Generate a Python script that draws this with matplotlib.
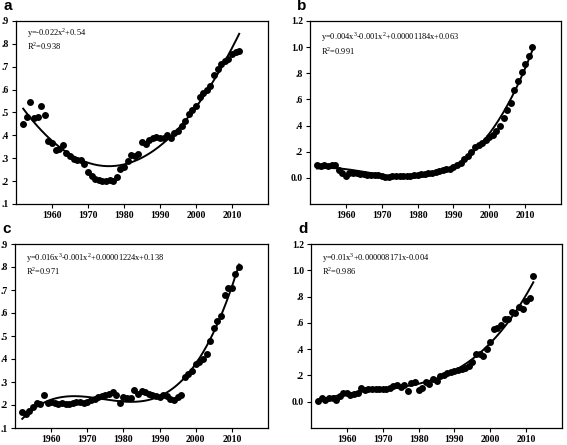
import matplotlib
matplotlib.use('Agg')
import matplotlib.pyplot as plt
import numpy as np

# Years shared by all four panels
years = list(range(1952, 2013))

vals_a = [0.45, 0.48, 0.545, 0.477, 0.48, 0.53, 0.487, 0.377, 0.365, 0.336,
          0.34, 0.36, 0.325, 0.31, 0.296, 0.292, 0.292, 0.274, 0.24, 0.223,
          0.208, 0.205, 0.2, 0.2, 0.205, 0.2, 0.22, 0.252, 0.26, 0.29,
          0.315, 0.31, 0.32, 0.37, 0.362, 0.38, 0.387, 0.395, 0.39, 0.39,
          0.4, 0.39, 0.41, 0.42, 0.443, 0.465, 0.494, 0.51, 0.53, 0.567,
          0.585, 0.597, 0.615, 0.663, 0.69, 0.71, 0.725, 0.735, 0.757, 0.765,
          0.77]
vals_b = [0.10, 0.09, 0.10, 0.09, 0.10, 0.095, 0.06, 0.035, 0.015, 0.035,
          0.04, 0.035, 0.03, 0.03, 0.025, 0.025, 0.02, 0.02, 0.015, 0.01,
          0.008, 0.012, 0.015, 0.015, 0.015, 0.015, 0.015, 0.02, 0.025, 0.03,
          0.03, 0.035, 0.04, 0.045, 0.055, 0.06, 0.065, 0.07, 0.08, 0.095,
          0.115, 0.145, 0.17, 0.2, 0.235, 0.25, 0.27, 0.29, 0.31, 0.33,
          0.36, 0.395, 0.455, 0.52, 0.575, 0.67, 0.74, 0.81, 0.87, 0.935,
          1.0]
vals_c = [0.17, 0.16, 0.175, 0.19, 0.21, 0.205, 0.245, 0.21, 0.215, 0.21,
          0.205, 0.21, 0.205, 0.205, 0.21, 0.215, 0.215, 0.21, 0.215, 0.22,
          0.225, 0.235, 0.24, 0.245, 0.25, 0.255, 0.245, 0.21, 0.235, 0.23,
          0.23, 0.265, 0.25, 0.26, 0.255, 0.25, 0.245, 0.24, 0.235, 0.245,
          0.24, 0.225, 0.22, 0.235, 0.245, 0.32, 0.335, 0.35, 0.38, 0.385,
          0.40, 0.42, 0.48, 0.535, 0.565, 0.585, 0.68, 0.71, 0.71, 0.77,
          0.80]
vals_d = [0.005, 0.025, 0.015, 0.025, 0.03, 0.01, 0.045, 0.07, 0.065, 0.05,
          0.06, 0.07, 0.105, 0.09, 0.095, 0.1, 0.1, 0.1, 0.095, 0.1,
          0.108, 0.12, 0.128, 0.11, 0.125, 0.085, 0.145, 0.15, 0.09, 0.108,
          0.15, 0.135, 0.175, 0.16, 0.195, 0.2, 0.215, 0.225, 0.235, 0.245,
          0.25, 0.26, 0.27, 0.3, 0.36, 0.36, 0.35, 0.4, 0.455, 0.555,
          0.56, 0.58, 0.63, 0.63, 0.68, 0.675, 0.72, 0.705, 0.765, 0.79,
          0.96]

eq_a = ["y=-0.022x$^{2}$+0.54", "R$^{2}$=0.938"]
eq_b = ["y=0.004x$^{3}$-0.001x$^{2}$+0.00001184x+0.063", "R$^{2}$=0.991"]
eq_c = ["y=0.016x$^{3}$-0.001x$^{2}$+0.00001224x+0.138", "R$^{2}$=0.971"]
eq_d = ["y=0.01x$^{3}$+0.000008171x-0.004", "R$^{2}$=0.986"]

small_ticks = [0.1, 0.2, 0.3, 0.4, 0.5, 0.6, 0.7, 0.8, 0.9]
small_labels = [".1", ".2", ".3", ".4", ".5", ".6", ".7", ".8", ".9"]
big_ticks = [0.0, 0.2, 0.4, 0.6, 0.8, 1.0, 1.2]
big_labels = ["0.0", ".2", ".4", ".6", ".8", "1.0", "1.2"]
xticks = [1960, 1970, 1980, 1990, 2000, 2010]

plt.rcParams['mathtext.fontset'] = 'custom'
plt.rcParams['mathtext.rm'] = 'Liberation Serif'

W, H = 567, 445
fig = plt.figure(figsize=(W / 100, H / 100), dpi=100)


def panel(rect, letter, vals, deg, eq, ylim, yt, ytl, eq_y):
    l, t, r, b = rect
    ax = fig.add_axes([l / W, 1 - b / H, (r - l) / W, (b - t) / H])
    x = np.array(years, dtype=float)
    y = np.array(vals)
    # polynomial trend line fitted to the points
    coef = np.polyfit(x - 1980, y, deg)
    xs = np.linspace(x[0], x[-1], 200)
    ax.plot(xs, np.polyval(coef, xs - 1980), color='black', lw=1.4, zorder=2)
    ax.plot(x, y, 'o', color='black', ms=5, mew=0, zorder=3)
    ax.set_xlim(1950, 2020)
    ax.set_ylim(*ylim)
    ax.set_xticks(xticks)
    ax.set_xticklabels([str(v) for v in xticks])
    ax.set_yticks(yt)
    ax.set_yticklabels(ytl)
    ax.tick_params(direction='out', length=3, width=0.8, pad=2,
                   top=False, right=False)
    for lab in ax.get_xticklabels() + ax.get_yticklabels():
        lab.set_fontfamily('Liberation Serif')
        lab.set_fontweight('bold')
        lab.set_fontsize(7)
    for sp in ax.spines.values():
        sp.set_linewidth(0.9)
    ax.text(0.045, eq_y, eq[0], transform=ax.transAxes, fontsize=6,
            family='Liberation Serif', va='center')
    ax.text(0.045, eq_y - 0.073, eq[1], transform=ax.transAxes, fontsize=6,
            family='Liberation Serif', va='center')
    fig.text((l - 13) / W, 1 - (t - 15) / H, letter, fontsize=11,
             fontweight='bold', family='Liberation Sans', va='center')
    return ax


panel((16, 21, 268, 204), 'a', vals_a, 2, eq_a, (0.1, 0.9),
      small_ticks, small_labels, 0.935)
panel((310, 21, 561, 204), 'b', vals_b, 3, eq_b, (-0.2, 1.2),
      big_ticks, big_labels, 0.91)
panel((15, 244, 268, 428), 'c', vals_c, 3, eq_c, (0.1, 0.9),
      small_ticks, small_labels, 0.925)
panel((311, 244, 562, 428), 'd', vals_d, 3, eq_d, (-0.2, 1.2),
      big_ticks, big_labels, 0.925)

fig.savefig('out.png', dpi=100)
